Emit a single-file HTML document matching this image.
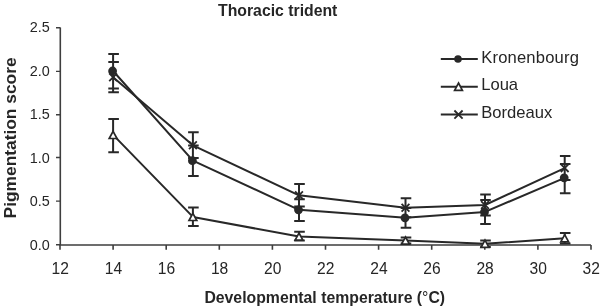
<!DOCTYPE html>
<html><head><meta charset="utf-8"><style>
html,body{margin:0;padding:0;background:#fff;width:600px;height:308px;overflow:hidden}
svg{display:block;will-change:transform}
text{font-family:"Liberation Sans",sans-serif;fill:#262626}
.yt{font-size:14.4px;text-anchor:end}
.xt{font-size:15.6px;text-anchor:middle}
.lg{font-size:16.6px}
.ti{font-size:15.8px;font-weight:bold}
.xl{font-size:15.8px;font-weight:bold}
.yl{font-size:17.35px;font-weight:bold}
.deg{font-weight:normal}
</style></head><body>
<svg width="600" height="308" viewBox="0 0 600 308">
<path d="M60.3 27.5V245H591" fill="none" stroke="#3e3e3e" stroke-width="1.6"/>
<path d="M56 244.8H60.3 M56 201.1H60.3 M56 157.5H60.3 M56 114.8H60.3 M56 71.4H60.3 M56 27.7H60.3" stroke="#3e3e3e" stroke-width="1.4"/>
<path d="M60 245V249.8 M113.1 245V249.8 M166.2 245V249.8 M219.3 245V249.8 M272.4 245V249.8 M325.5 245V249.8 M378.6 245V249.8 M431.7 245V249.8 M484.8 245V249.8 M537.9 245V249.8 M591 245V249.8" stroke="#3e3e3e" stroke-width="1.6"/>
<text x="49.8" y="249.5" class="yt">0.0</text>
<text x="49.8" y="206" class="yt">0.5</text>
<text x="49.8" y="162.5" class="yt">1.0</text>
<text x="49.8" y="119" class="yt">1.5</text>
<text x="49.8" y="75.5" class="yt">2.0</text>
<text x="49.8" y="32" class="yt">2.5</text>
<text x="60.3" y="273.8" class="xt">12</text>
<text x="113.4" y="273.8" class="xt">14</text>
<text x="166.5" y="273.8" class="xt">16</text>
<text x="219.6" y="273.8" class="xt">18</text>
<text x="272.7" y="273.8" class="xt">20</text>
<text x="325.8" y="273.8" class="xt">22</text>
<text x="378.9" y="273.8" class="xt">24</text>
<text x="432" y="273.8" class="xt">26</text>
<text x="485.1" y="273.8" class="xt">28</text>
<text x="538.2" y="273.8" class="xt">30</text>
<text x="591.3" y="273.8" class="xt">32</text>
<polyline points="113.1,71 192.9,160.7 299,209.8 405.5,217.8 485,211.9 564.7,177.8" fill="none" stroke="#282828" stroke-width="2.0" stroke-linejoin="round"/>
<polyline points="113.1,134.9 192.9,216.9 299,236.6 405.5,240.6 485,243.7 564.7,238.3" fill="none" stroke="#282828" stroke-width="2.0" stroke-linejoin="round"/>
<polyline points="113.1,77.2 192.9,145.3 299,195.3 405.5,207.8 485,205 564.7,168.1" fill="none" stroke="#282828" stroke-width="2.0" stroke-linejoin="round"/>
<path d="M113.1 54.1V88.5M108.3 54.1H118.9M108.3 88.5H118.9M192.9 145.5V175.9M188.1 145.5H198.7M188.1 175.9H198.7M299 199.2V221M294.2 199.2H304.8M294.2 221H304.8M405.5 207.9V227.7M400.7 207.9H411.3M400.7 227.7H411.3M485 199.9V223.9M480.2 199.9H490.8M480.2 223.9H490.8M564.7 164.1V193.2M559.9 164.1H570.5M559.9 193.2H570.5M113.1 119V152.2M108.3 119H118.9M108.3 152.2H118.9M192.9 207.6V226.1M188.1 207.6H198.7M188.1 226.1H198.7M299 231.7V240.6M294.2 231.7H304.8M294.2 240.6H304.8M405.5 237.6V243.6M400.7 237.6H411.3M400.7 243.6H411.3M485 240.5V247M480.2 240.5H490.8M480.2 247H490.8M564.7 233V243.6M559.9 233H570.5M559.9 243.6H570.5M113.1 62.1V92.3M108.3 62.1H118.9M108.3 92.3H118.9M192.9 132.3V157.9M188.1 132.3H198.7M188.1 157.9H198.7M299 184.1V206.5M294.2 184.1H304.8M294.2 206.5H304.8M405.5 198.3V217.3M400.7 198.3H411.3M400.7 217.3H411.3M485 194.5V215.5M480.2 194.5H490.8M480.2 215.5H490.8M564.7 156.1V180.1M559.9 156.1H570.5M559.9 180.1H570.5" fill="none" stroke="#282828" stroke-width="2.0"/>
<circle cx="112.6" cy="71" r="4.4" fill="#282828"/>
<circle cx="192.4" cy="160.7" r="4.4" fill="#282828"/>
<circle cx="298.5" cy="209.8" r="4.4" fill="#282828"/>
<circle cx="405" cy="217.8" r="4.4" fill="#282828"/>
<circle cx="484.5" cy="211.9" r="4.4" fill="#282828"/>
<circle cx="564.2" cy="177.8" r="4.4" fill="#282828"/>
<path d="M113.1 131.3L117 138.5H109.2Z" fill="#fff" stroke="#282828" stroke-width="1.7" stroke-linejoin="miter"/>
<path d="M192.9 213.3L196.8 220.5H189Z" fill="#fff" stroke="#282828" stroke-width="1.7" stroke-linejoin="miter"/>
<path d="M299 233L302.9 240.2H295.1Z" fill="#fff" stroke="#282828" stroke-width="1.7" stroke-linejoin="miter"/>
<path d="M405.5 237L409.4 244.2H401.6Z" fill="#fff" stroke="#282828" stroke-width="1.7" stroke-linejoin="miter"/>
<path d="M485 240.1L488.9 247.3H481.1Z" fill="#fff" stroke="#282828" stroke-width="1.7" stroke-linejoin="miter"/>
<path d="M564.7 234.7L568.6 241.9H560.8Z" fill="#fff" stroke="#282828" stroke-width="1.7" stroke-linejoin="miter"/>
<path d="M109.2 73.3L117 81.1M109.2 81.1L117 73.3" stroke="#282828" stroke-width="1.8"/>
<path d="M189 141.4L196.8 149.2M189 149.2L196.8 141.4" stroke="#282828" stroke-width="1.8"/>
<path d="M295.1 191.4L302.9 199.2M295.1 199.2L302.9 191.4" stroke="#282828" stroke-width="1.8"/>
<path d="M401.6 203.9L409.4 211.7M401.6 211.7L409.4 203.9" stroke="#282828" stroke-width="1.8"/>
<path d="M481.1 201.1L488.9 208.9M481.1 208.9L488.9 201.1" stroke="#282828" stroke-width="1.8"/>
<path d="M560.8 164.2L568.6 172M560.8 172L568.6 164.2" stroke="#282828" stroke-width="1.8"/>
<path d="M440.8 59H477.8" stroke="#282828" stroke-width="2.0"/>
<path d="M440.8 86.8H477.8" stroke="#282828" stroke-width="2.0"/>
<path d="M440.8 114.4H477.8" stroke="#282828" stroke-width="2.0"/>
<circle cx="458" cy="59" r="3.8" fill="#282828"/>
<path d="M458.5 83L462.4 90.4H454.6Z" fill="#fff" stroke="#282828" stroke-width="1.7" stroke-linejoin="miter"/>
<path d="M454.4 110.5L462.6 118.7M454.4 118.7L462.6 110.5" stroke="#282828" stroke-width="1.8"/>
<text x="481.2" y="62.8" class="lg" letter-spacing="0.18">Kronenbourg</text>
<text x="481.2" y="90.3" class="lg">Loua</text>
<text x="481.2" y="118.4" class="lg">Bordeaux</text>
<text x="218" y="15.8" class="ti">Thoracic trident</text>
<text x="204.4" y="302.8" class="xl">Developmental temperature (<tspan class="deg">°</tspan>C)</text>
<text transform="translate(16.3 218.4) rotate(-90)" class="yl">Pigmentation score</text>
</svg>
</body></html>
